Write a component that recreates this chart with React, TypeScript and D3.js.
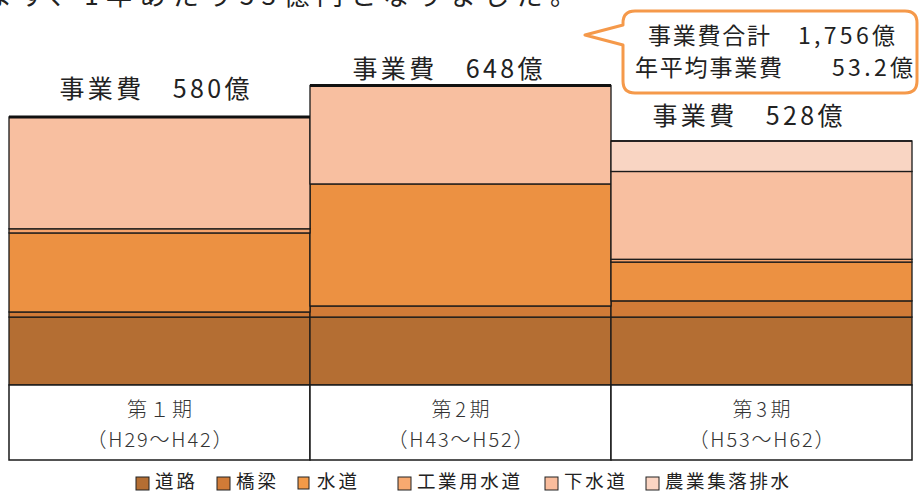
import React from "react";
import * as d3 from "d3";

const periods = ["p1", "p2", "p3"];
const periodNames = ["第１期", "第2期", "第3期"];
const periodRanges = ["（H29～H42）", "（H43～H52）", "（H53～H62）"];
const seriesNames = ["道路", "橋梁", "水道", "工業用水道", "下水道", "農業集落排水"];
const road = [147, 147, 147];
const bridge = [11, 24, 35];
const water = [171, 264, 84];
const industrialWater = [9, 0, 6];
const sewer = [242, 213, 190];
const ruralSewer = [0, 0, 66];
const totals = [580, 648, 528];
const summaryLabels = ["事業費合計", "年平均事業費"];
const summaryValues = ["1,756億", "53.2億"];

const colors = ["#b46e33", "#d17b37", "#ec9142", "#f5a46c", "#f8bfa0", "#f9d5c3"];
const legendColors = ["#b46e33", "#d17b37", "#f39a48", "#f7a970", "#f9bc9c", "#fbd5c3"];
const legendX = [136, 217, 298, 398, 545, 646];
const labelOffsets = [
  { dx: -5, dy: -19 },
  { dx: -13, dy: -8 },
  { dx: -14, dy: -16 },
];
const FONT = "'Noto Sans CJK JP', 'Noto Sans', sans-serif";

export default function App() {
  const W = 920;
  const H = 493;
  const seriesArrays = [road, bridge, water, industrialWater, sewer, ruralSewer];
  const rows = periods.map((p, i) => {
    const r: any = { period: p };
    seriesNames.forEach((s, k) => (r[s] = seriesArrays[k][i]));
    return r;
  });
  const stacked = d3.stack<any>().keys(seriesNames)(rows);

  const x = d3.scaleBand().domain(periods).range([9, 912]).padding(0);
  const y = d3.scaleLinear().domain([0, 648]).range([385, 85.5]);
  const bw = x.bandwidth();

  const bx = 623, by = 11, bx2 = 917, by2 = 93, r = 12;
  const calloutPath = [
    `M${bx + r},${by}`,
    `L${bx2 - r},${by}`,
    `Q${bx2},${by} ${bx2},${by + r}`,
    `L${bx2},${by2 - r}`,
    `Q${bx2},${by2} ${bx2 - r},${by2}`,
    `L${bx + r},${by2}`,
    `Q${bx},${by2} ${bx},${by2 - r}`,
    `L${bx},45`,
    `L585,35`,
    `L${bx},25`,
    `L${bx},${by + r}`,
    `Q${bx},${by} ${bx + r},${by}`,
    "Z",
  ].join(" ");

  return (
    <svg
      width={W}
      height={H}
      style={{ position: "absolute", left: 0, top: 0, background: "#fff" }}
      fontFamily={FONT}
    >
      <text x={-14} y={5} fontSize={26} fill="#222" textLength={590} lengthAdjust="spacing">
        ます、1年あたり53億円となりました。
      </text>

      {stacked.map((layer, k) =>
        layer.map((d, i) => {
          const h = y(d[0]) - y(d[1]);
          if (h <= 0) return null;
          return (
            <rect
              key={`${k}-${i}`}
              x={x(periods[i])}
              y={y(d[1])}
              width={bw}
              height={h}
              fill={colors[k]}
              stroke="#1a1a1a"
              strokeWidth={1.3}
            />
          );
        })
      )}

      {periods.map((p, i) => (
        <line
          key={`top-${p}`}
          x1={x(p)}
          x2={(x(p) as number) + bw}
          y1={y(totals[i])}
          y2={y(totals[i])}
          stroke="#111"
          strokeWidth={i < 2 ? 3 : 1.5}
        />
      ))}

      {periods.map((p, i) => (
        <text
          key={`lbl-${p}`}
          x={(x(p) as number) + bw / 2 + labelOffsets[i].dx}
          y={y(totals[i]) + labelOffsets[i].dy}
          textAnchor="middle"
          fontSize={25}
          fill="#222"
          textLength={190}
          lengthAdjust="spacing"
        >
          {`事業費　${totals[i]}億`}
        </text>
      ))}

      {periods.map((p, i) => (
        <g key={`cell-${p}`}>
          <rect
            x={x(p)}
            y={385}
            width={bw}
            height={75}
            fill="#fff"
            stroke="#1a1a1a"
            strokeWidth={1.5}
          />
          <text
            x={(x(p) as number) + bw / 2}
            y={417}
            textAnchor="middle"
            fontSize={20}
            fill="#333"
            fontWeight={300}
            textLength={i === 0 ? 65 : 58}
            lengthAdjust="spacing"
          >
            {periodNames[i]}
          </text>
          <text
            x={(x(p) as number) + bw / 2}
            y={447}
            textAnchor="middle"
            fontSize={20}
            fill="#333"
            fontWeight={300}
            textLength={146}
            lengthAdjust="spacing"
          >
            {periodRanges[i]}
          </text>
        </g>
      ))}

      <path d={calloutPath} fill="#fff" stroke="#f5994a" strokeWidth={3} strokeLinejoin="round" />
      <text x={648} y={44} fontSize={23} fill="#222" textLength={122} lengthAdjust="spacing">
        {summaryLabels[0]}
      </text>
      <text x={895} y={44} fontSize={23} fill="#222" textAnchor="end" textLength={97} lengthAdjust="spacing">
        {summaryValues[0]}
      </text>
      <text x={635} y={76} fontSize={23} fill="#222" textLength={147} lengthAdjust="spacing">
        {summaryLabels[1]}
      </text>
      <text x={913} y={76} fontSize={23} fill="#222" textAnchor="end" textLength={81} lengthAdjust="spacing">
        {summaryValues[1]}
      </text>

      {seriesNames.map((s, k) => (
        <g key={`leg-${s}`}>
          <rect
            x={legendX[k]}
            y={477}
            width={k === 2 ? 11 : 13}
            height={k === 2 ? 12 : 13}
            fill={legendColors[k]}
            stroke="#222"
            strokeWidth={1}
          />
          <text
            x={legendX[k] + 19}
            y={488}
            fontSize={18.5}
            fill="#222"
            textLength={s.length * 21 - 2}
            lengthAdjust="spacing"
          >
            {s}
          </text>
        </g>
      ))}
    </svg>
  );
}
